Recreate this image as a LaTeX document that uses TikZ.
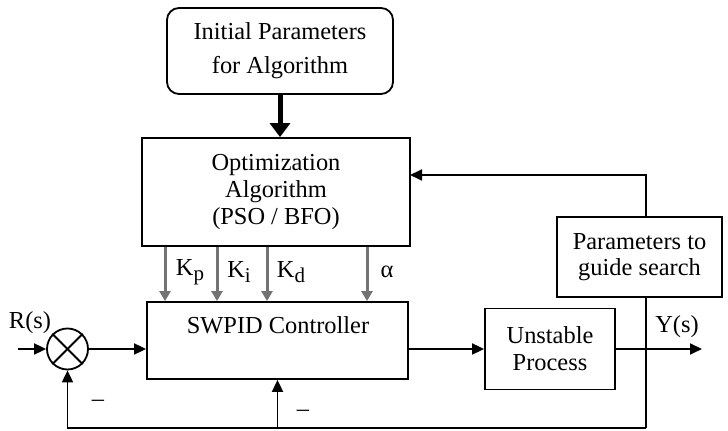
\documentclass[tikz,border=0pt]{standalone}
\usepackage{fontspec}
\setmainfont{Liberation Serif}
\usetikzlibrary{arrows.meta}
\tikzstyle{block} = [draw=black, line width=0.9pt, rectangle, align=center, inner sep=0pt, font={\fontsize{12.2}{13.5}\selectfont}]
\tikzstyle{start} = [block, rounded corners=6pt]
\tikzstyle{sumpt} = [draw=black, line width=0.9pt, circle, minimum size=20.5pt, inner sep=0pt]
\tikzstyle{wire} = [line width=0.9pt]
\tikzstyle{sig} = [wire, -{Triangle[length=6pt,width=5.5pt]}]
\tikzstyle{gain} = [draw=black!55, line width=1.5pt, -{Triangle[length=5pt,width=5.5pt]}]
\tikzstyle{lbl} = [font={\fontsize{12.2}{13.5}\selectfont}, inner sep=1pt]
\newcommand{\ksub}[1]{\raisebox{-2.5pt}{\fontsize{10.5}{10.5}\selectfont #1}}

\begin{document}
\begin{tikzpicture}[x=0.5pt,y=-0.5pt]
        \useasboundingbox (0,0) rectangle (728,431);
        \node[start,minimum width=113pt,minimum height=43pt,font={\fontsize{12.2}{17}\selectfont}](init) at (280,51){Initial Parameters\\for Algorithm};
        \node[block,minimum width=134pt,minimum height=54pt](opt) at (276,192){Optimization\\Algorithm\\(PSO / BFO)};
        \node[block,minimum width=82.5pt,minimum height=40pt,font={\fontsize{12.2}{13}\selectfont}](guide) at (639.5,257){Parameters to\\guide search};
        \node[block,minimum width=130.5pt,minimum height=38.5pt](pid) at (277.5,340.5){};
        \node[lbl](pidtext) at (278,325){SWPID Controller};
        \node[block,minimum width=65pt,minimum height=40.5pt](plant) at (550,349){Unstable\\Process};
        \node[sumpt](sum) at (67.5,349){};
        \draw[wire](sum.north west)--(sum.south east);
        \draw[wire](sum.north east)--(sum.south west);
        % signal points
        \coordinate(rin) at (18,349);
        \coordinate(yout) at (702,349);
        \coordinate(tap) at (646,349);
        \coordinate(fb) at (646,428);
        \coordinate(optin) at (410,175);
        \coordinate(g1) at (165,0);
        \coordinate(g2) at (217,0);
        \coordinate(g3) at (267,0);
        \coordinate(g4) at (367,0);
        \node[lbl](rlbl) at (30,323){R(s)};
        \node[lbl](ylbl) at (677,327){Y(s)};
        \node[lbl](kp) at (190,272){K\ksub{p}};
        \node[lbl](ki) at (239,272){K\ksub{i}};
        \node[lbl](kd) at (291,272){K\ksub{d}};
        \node[lbl](ka) at (387,272){α};
        \node[lbl](m1) at (98,403){–};
        \node[lbl](m2) at (303,413){–};
        \draw[line width=2.5pt,-{Triangle[length=7pt,width=10pt]}](init.south)--(init.south|-opt.north);
        \draw[gain](opt.south-|g1)--(pid.north-|g1);
        \draw[gain](opt.south-|g2)--(pid.north-|g2);
        \draw[gain](opt.south-|g3)--(pid.north-|g3);
        \draw[gain](opt.south-|g4)--(pid.north-|g4);
        \draw[sig](rin)--(sum.west);
        \draw[sig](sum.east)--(sum.east-|pid.west);
        \draw[sig](plant.west-|pid.east)--(plant.west);
        \draw[sig](plant.east)--(yout);
        \draw[sig](guide.north-|tap)|-(optin);
        \draw[wire](guide.south-|tap)--(fb);
        \draw[sig](fb)-|(sum.south);
        \draw[sig](pid.south|-fb)--(pid.south);
      \end{tikzpicture}
\end{document}
